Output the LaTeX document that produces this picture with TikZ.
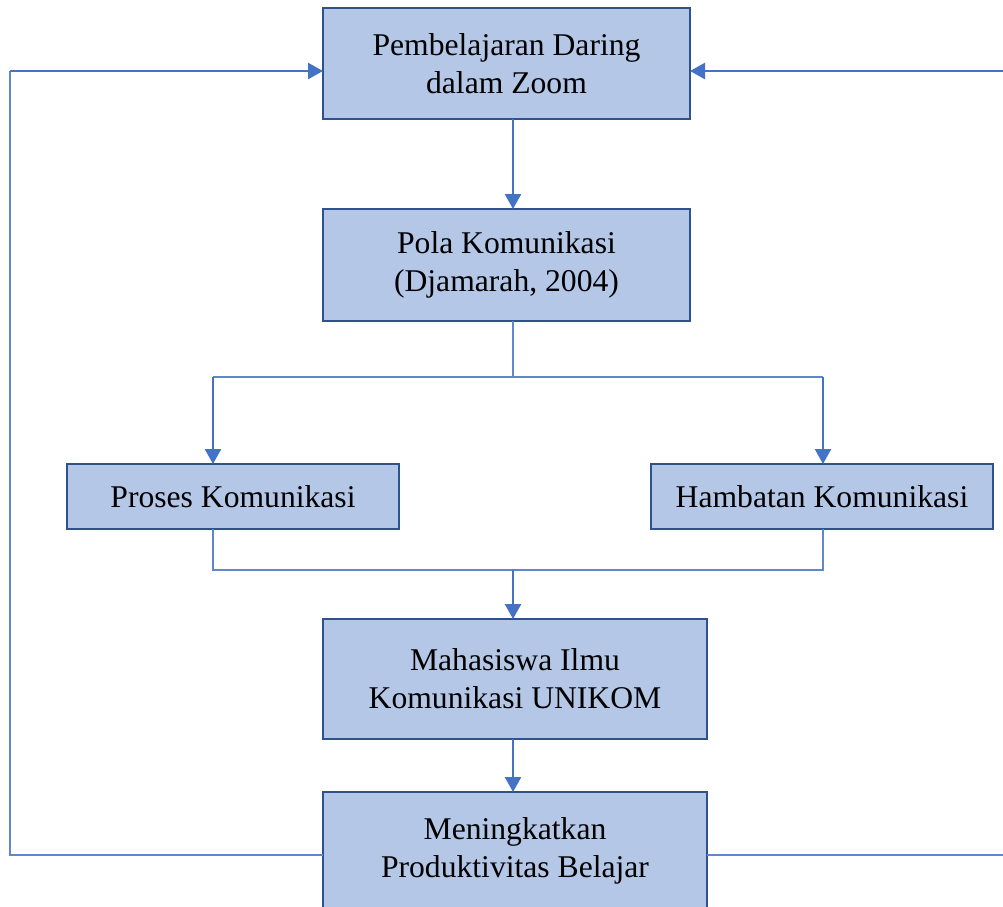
\documentclass[tikz,border=0pt]{standalone}
\usepackage{fontspec}
\setmainfont{Liberation Serif}
\usepackage{tikz}
\usetikzlibrary{arrows.meta}

\definecolor{boxfill}{HTML}{B4C7E7}
\definecolor{boxline}{HTML}{2F528F}
\definecolor{flow}{HTML}{4472C4}

\tikzset{
  box/.style={draw=boxline, fill=boxfill, line width=1.5pt, align=center,
    inner sep=0pt, outer sep=0pt, font=\fontsize{18}{21.5}\selectfont},
  flowarrow/.style={draw=flow, line width=1.4pt, -{Triangle[length=0.30cm,width=0.32cm]}},
  flowline/.style={draw=flow!85, line width=0.6pt}
}

\begin{document}
\begin{tikzpicture}
\useasboundingbox (0,0) rectangle (20.06,-18.12);

% boxes
\node[box, minimum width=7.34cm, minimum height=2.22cm] (zoom) at (10.13,-1.27) {Pembelajaran Daring\\dalam Zoom};
\node[box, minimum width=7.34cm, minimum height=2.24cm] (pola) at (10.13,-5.30) {Pola Komunikasi\\(Djamarah, 2004)};
\node[box, minimum width=6.64cm, minimum height=1.30cm] (proses) at (4.66,-9.93) {Proses Komunikasi};
\node[box, minimum width=6.84cm, minimum height=1.30cm] (hambatan) at (16.44,-9.93) {Hambatan Komunikasi};
\node[box, minimum width=7.68cm, minimum height=2.40cm] (mhs) at (10.30,-13.58) {Mahasiswa Ilmu\\Komunikasi UNIKOM};
\node[box, minimum width=7.68cm, minimum height=2.36cm] (hasil) at (10.30,-17.02) {Meningkatkan\\Produktivitas Belajar};

% junctions
\coordinate (split) at (10.26,-7.54);
\coordinate (join) at (10.26,-11.40);
\coordinate (splitL) at (4.26,-7.54);
\coordinate (splitR) at (16.46,-7.54);
\coordinate (joinL) at (4.26,-11.40);
\coordinate (joinR) at (16.46,-11.40);
\coordinate (backL) at (0.20,-17.10);
\coordinate (backR) at (20.30,-17.10);
\coordinate (topL) at (0.20,-1.42);
\coordinate (topR) at (20.30,-1.42);

% main flow
\draw[flowarrow] (split |- zoom.south) -- (split |- pola.north);
\draw[flowline] (split |- pola.south) -- (split);
\draw[flowline] (splitL) -- (splitR);
\draw[flowarrow] (splitL) -- (splitL |- proses.north);
\draw[flowarrow] (splitR) -- (splitR |- hambatan.north);
\draw[flowline] (joinL |- proses.south) -- (joinL) -- (joinR) -- (joinR |- hambatan.south);
\draw[flowarrow] (join) -- (join |- mhs.north);
\draw[flowarrow] (split |- mhs.south) -- (split |- hasil.north);

% feedback loops
\draw[flowline] (hasil.west |- backL) -- (backL) -- (topL);
\draw[flowarrow] (topL) -- (zoom.west |- topL);
\draw[flowline] (hasil.east |- backR) -- (backR);
\draw[flowarrow] (topR) -- (zoom.east |- topR);
\end{tikzpicture}
\end{document}
